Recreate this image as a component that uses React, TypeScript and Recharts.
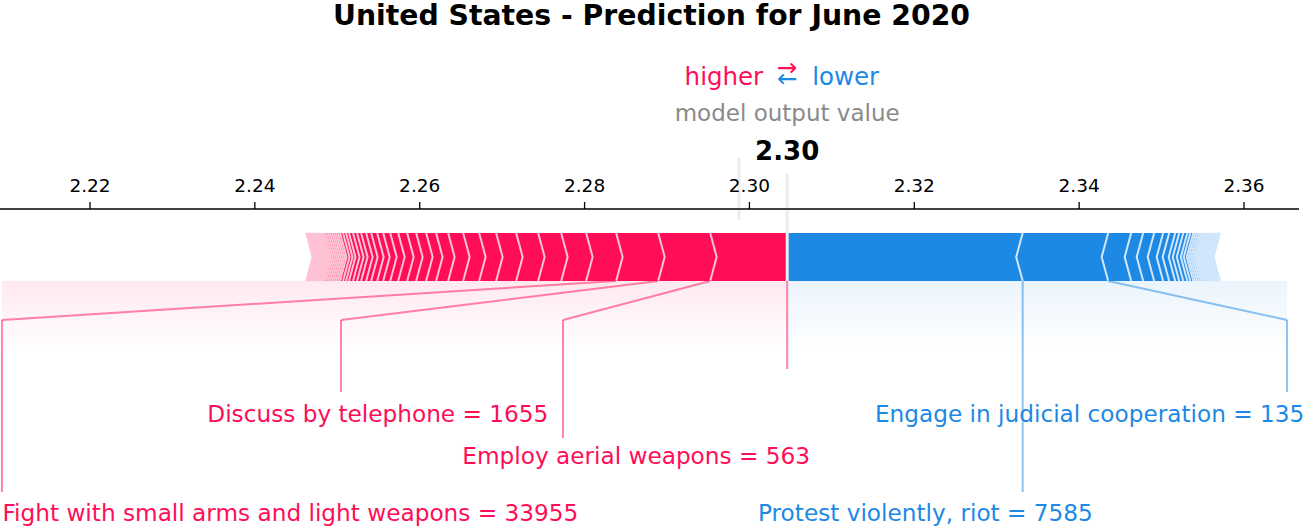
import React from "react";
import { ComposedChart, XAxis, YAxis, ReferenceArea, ReferenceLine, ReferenceDot } from "recharts";

// ---- data ----
const TITLE = "United States - Prediction for June 2020";
const BASE_VALUE = 2.29873;
const xTicks = [2.22, 2.24, 2.26, 2.28, 2.3, 2.32, 2.34, 2.36];

// contributions pushing the output higher, largest first
const higherEffects = [
  0.00934, 0.00631, 0.0051, 0.00364, 0.00303, 0.00279, 0.00267, 0.00243, 0.00206, 0.00194,
  0.00182, 0.00146, 0.00121, 0.00121, 0.00109, 0.00109, 0.00097, 0.00085, 0.00073, 0.00073,
  0.00061, 0.00061, 0.00049, 0.00049, 0.00049, 0.00036, 0.00036, 0.00036, 0.00024, 0.00024,
  0.00024, 0.00024, 0.00024, 0.00024, 0.00024, 0.00022, 0.00019, 0.00018, 0.00017, 0.00016,
  0.00015, 0.00014, 0.00013, 0.00012, 0.00011, 0.0001, 0.00009, 0.00008, 0.00008, 0.00007,
  0.00006, 0.00006, 0.00005, 0.00005, 0.00004, 0.00004, 0.00003, 0.00003, 0.00002, 0.00002,
  0.00001, 0.00001,
];

// contributions pushing the output lower, largest first
const lowerEffects = [
  0.02857, 0.01037, 0.00279, 0.00146, 0.00133, 0.00109, 0.00073, 0.00073, 0.00049, 0.00049,
  0.00049, 0.00036, 0.00036, 0.00024, 0.00024, 0.00024, 0.00022, 0.00019, 0.00018, 0.00017,
  0.00016, 0.00015, 0.00014, 0.00013, 0.00012, 0.00011, 0.0001, 0.00009, 0.00009, 0.00008,
  0.00008, 0.00007, 0.00006, 0.00006, 0.00005, 0.00005, 0.00004, 0.00004, 0.00003, 0.00003,
  0.00002, 0.00002, 0.00001, 0.00001,
];

const higherNames = ["Employ aerial weapons", "Discuss by telephone", "Fight with small arms and light weapons"];
const higherCounts = ["563", "1655", "33955"];
const lowerNames = ["Protest violently, riot", "Engage in judicial cooperation"];
const lowerCounts = ["7585", "135"];

// ---- layout ----
const W = 1303;
const H = 527;
const FONT = "DejaVu Sans";
const RED = "#FF0D57";
const RED_LIGHT = "#FFC3D5";
const BLUE = "#1E88E5";
const BLUE_LIGHT = "#D1E6FA";
const X_DOMAIN: [number, number] = [2.209082, 2.366671];
const Y_DOMAIN: [number, number] = [-5.125, 1.5]; // bar spans y 0..1
const INDENT = (X_DOMAIN[1] - X_DOMAIN[0]) / 200;
const ELBOW_Y = -0.8125;
const LABEL_SIZE = 23.2;

// label placement: where the leader line drops, where the text sits, which row
const tiers = [
  { lineEnd: -2.3125, baseline: -2.944 },
  { lineEnd: -3.27, baseline: -3.8125 },
  { lineEnd: -4.396, baseline: -5.0 },
];
const higherPlacement = [
  { dropX: 2.27738, textX: 2.30735, tier: 1 },
  { dropX: 2.25045, textX: 2.2756, tier: 0 },
  { dropX: 2.20932, textX: 2.27924, tier: 2 },
];
const lowerPlacement = [
  { dropX: null as number | null, textX: 2.30104, tier: 2 },
  { dropX: 2.36522, textX: 2.31523, tier: 0 },
];

const sum = (a: number[]) => a.reduce((s, v) => s + v, 0);
const outValue = BASE_VALUE + sum(higherEffects) - sum(lowerEffects);

type Seg = { left: number; right: number; index: number; side: "pos" | "neg" };

const higherSegs: Seg[] = [];
{
  let pre = outValue;
  higherEffects.forEach((e, i) => {
    higherSegs.push({ left: pre - e, right: pre, index: i, side: "pos" });
    pre -= e;
  });
}
const lowerSegs: Seg[] = [];
{
  let pre = outValue;
  lowerEffects.forEach((e, i) => {
    lowerSegs.push({ left: pre, right: pre + e, index: i, side: "neg" });
    pre += e;
  });
}

const pts = (p: number[][]) => p.map((q) => q.join(",")).join(" ");

function segmentShape(seg: Seg) {
  return (p: any) => {
    const { x, y, width, height } = p;
    const sign = seg.side === "pos" ? 1 : -1;
    const ind = (width / (seg.right - seg.left)) * INDENT * sign;
    const L = x;
    const R = x + width;
    const T = y;
    const B = y + height;
    const M = y + height / 2;
    let poly: number[][];
    if (seg.index === 0) {
      poly =
        seg.side === "pos"
          ? [[L, B], [R, B], [R, T], [L, T], [L + ind, M]]
          : [[R, B], [L, B], [L, T], [R, T], [R + ind, M]];
    } else {
      poly = [[L, T], [R, T], [R + ind * 0.9, M], [R, B], [L, B], [L + ind * 0.9, M]];
    }
    return <polygon points={pts(poly)} fill={seg.side === "pos" ? RED : BLUE} />;
  };
}

function separatorShape(side: "pos" | "neg") {
  return (p: any) => {
    const { x, y, width, height } = p;
    const M = y + height / 2;
    const poly =
      side === "pos"
        ? [[x, y], [x + width, M], [x, y + height]]
        : [[x + width, y], [x, M], [x + width, y + height]];
    return (
      <polyline
        points={pts(poly)}
        fill="none"
        stroke={side === "pos" ? RED_LIGHT : BLUE_LIGHT}
        strokeWidth={2}
      />
    );
  };
}

function shadeShape(id: string, color: string) {
  return (p: any) => (
    <g>
      <defs>
        <linearGradient id={id} x1="0" y1="0" x2="0" y2="1">
          <stop offset="0%" stopColor={color} stopOpacity={0.09} />
          <stop offset="100%" stopColor={color} stopOpacity={0} />
        </linearGradient>
      </defs>
      <rect x={p.x} y={p.y} width={p.width} height={p.height} fill={`url(#${id})`} />
    </g>
  );
}

function textShape(text: string, opts: { size: number; color: string; anchor: string; weight?: string }) {
  return (p: any) => (
    <text
      x={p.cx}
      y={p.cy}
      fontSize={opts.size}
      fill={opts.color}
      textAnchor={opts.anchor}
      fontWeight={opts.weight ?? "normal"}
      fontFamily={FONT}
    >
      {text}
    </text>
  );
}

function higherLowerShape(p: any) {
  return (
    <g fontFamily={FONT} fontSize={24.5}>
      <text x={p.cx - 24} y={p.cy} fill={RED} textAnchor="end">higher</text>
      <text x={p.cx + 25} y={p.cy} fill={BLUE} textAnchor="start">lower</text>
      <text x={p.cx} y={p.cy - 9} fill={RED} textAnchor="middle">→</text>
      <text x={p.cx} y={p.cy + 2} fill={BLUE} textAnchor="middle">←</text>
    </g>
  );
}

const redLine = "rgba(255,13,87,0.5)";
const blueLine = "rgba(30,136,229,0.5)";

export default function App() {
  const leftShade = Math.min(...higherPlacement.map((h) => h.dropX));
  const rightShade = Math.max(...lowerPlacement.map((l) => l.dropX ?? 0));

  return (
    <div style={{ position: "absolute", left: 0, top: 0, width: W, height: H, background: "#fff" }}>
      <ComposedChart width={W} height={H} margin={{ top: 0, right: 4, bottom: 0, left: 0 }}>
        <XAxis
          type="number"
          dataKey="x"
          orientation="top"
          domain={X_DOMAIN}
          ticks={xTicks}
          interval={0}
          allowDataOverflow
          height={209}
          tickSize={7}
          tickMargin={10}
          tickFormatter={(v: number) => v.toFixed(2)}
          tick={{ fontSize: 18.5, fill: "#000", fontFamily: FONT }}
          axisLine={{ stroke: "#000", strokeWidth: 1.3 }}
          tickLine={{ stroke: "#000", strokeWidth: 1.3 }}
        />
        <YAxis type="number" dataKey="y" domain={Y_DOMAIN} hide allowDataOverflow />

        <ReferenceArea x1={leftShade} x2={outValue} y1={-1.5} y2={0} shape={shadeShape("shadeRed", RED)} />
        <ReferenceArea x1={outValue} x2={rightShade} y1={-1.5} y2={0} shape={shadeShape("shadeBlue", BLUE)} />

        {higherSegs.map((s) => (
          <ReferenceArea key={`hp${s.index}`} x1={s.left} x2={s.right} y1={0} y2={1} shape={segmentShape(s)} />
        ))}
        {lowerSegs.map((s) => (
          <ReferenceArea key={`lp${s.index}`} x1={s.left} x2={s.right} y1={0} y2={1} shape={segmentShape(s)} />
        ))}
        {higherSegs.map((s) => (
          <ReferenceArea key={`hs${s.index}`} x1={s.left} x2={s.left + INDENT} y1={0} y2={1} shape={separatorShape("pos")} />
        ))}
        {lowerSegs.map((s) => (
          <ReferenceArea key={`ls${s.index}`} x1={s.right - INDENT} x2={s.right} y1={0} y2={1} shape={separatorShape("neg")} />
        ))}

        {/* base value and output value markers */}
        <ReferenceLine segment={[{ x: BASE_VALUE, y: 2.5625 }, { x: BASE_VALUE, y: 1.53 }]} stroke="#ececec" strokeWidth={3} ifOverflow="visible" />
        <ReferenceLine segment={[{ x: BASE_VALUE, y: 1.47 }, { x: BASE_VALUE, y: 1.271 }]} stroke="#ececec" strokeWidth={3} ifOverflow="visible" />
        <ReferenceLine segment={[{ x: outValue, y: 2.229 }, { x: outValue, y: 1.53 }]} stroke="#ececec" strokeWidth={3} ifOverflow="visible" />
        <ReferenceLine segment={[{ x: outValue, y: 1.47 }, { x: outValue, y: 0 }]} stroke="#ececec" strokeWidth={3} ifOverflow="visible" />

        {/* leader lines */}
        <ReferenceLine segment={[{ x: outValue, y: 0 }, { x: outValue, y: -1.833 }]} stroke={redLine} strokeWidth={2} ifOverflow="visible" />
        {higherPlacement.map((pl, i) => (
          <React.Fragment key={`hl${i}`}>
            <ReferenceLine segment={[{ x: higherSegs[i].left, y: 0 }, { x: pl.dropX, y: ELBOW_Y }]} stroke={redLine} strokeWidth={2} ifOverflow="visible" />
            <ReferenceLine segment={[{ x: pl.dropX, y: ELBOW_Y }, { x: pl.dropX, y: tiers[pl.tier].lineEnd }]} stroke={redLine} strokeWidth={2} ifOverflow="visible" />
          </React.Fragment>
        ))}
        {lowerPlacement.map((pl, i) => {
          const val = lowerSegs[i].right;
          if (pl.dropX === null) {
            return (
              <ReferenceLine key={`ll${i}`} segment={[{ x: val, y: 0 }, { x: val, y: tiers[pl.tier].lineEnd }]} stroke={blueLine} strokeWidth={2} ifOverflow="visible" />
            );
          }
          return (
            <React.Fragment key={`ll${i}`}>
              <ReferenceLine segment={[{ x: val, y: 0 }, { x: pl.dropX, y: ELBOW_Y }]} stroke={blueLine} strokeWidth={2} ifOverflow="visible" />
              <ReferenceLine segment={[{ x: pl.dropX, y: ELBOW_Y }, { x: pl.dropX, y: tiers[pl.tier].lineEnd }]} stroke={blueLine} strokeWidth={2} ifOverflow="visible" />
            </React.Fragment>
          );
        })}

        {/* feature labels */}
        {higherPlacement.map((pl, i) => (
          <ReferenceDot
            key={`ht${i}`}
            x={pl.textX}
            y={tiers[pl.tier].baseline}
            r={0}
            ifOverflow="visible"
            shape={textShape(`${higherNames[i]} = ${higherCounts[i]}`, { size: LABEL_SIZE, color: RED, anchor: "end" })}
          />
        ))}
        {lowerPlacement.map((pl, i) => (
          <ReferenceDot
            key={`lt${i}`}
            x={pl.textX}
            y={tiers[pl.tier].baseline}
            r={0}
            ifOverflow="visible"
            shape={textShape(`${lowerNames[i]} = ${lowerCounts[i]}`, { size: LABEL_SIZE, color: BLUE, anchor: "start" })}
          />
        ))}

        {/* header over the output value */}
        <ReferenceDot x={outValue} y={4.083} r={0} ifOverflow="visible" shape={higherLowerShape} />
        <ReferenceDot
          x={outValue}
          y={3.333}
          r={0}
          ifOverflow="visible"
          shape={textShape("model output value", { size: 23, color: "#8a8a8a", anchor: "middle" })}
        />
        <ReferenceDot
          x={outValue}
          y={2.521}
          r={0}
          ifOverflow="visible"
          shape={textShape(outValue.toFixed(2), { size: 26, color: "#000", anchor: "middle", weight: "bold" })}
        />
      </ComposedChart>
      <div
        style={{
          position: "absolute",
          left: 0,
          top: 1,
          width: W,
          textAlign: "center",
          fontFamily: FONT,
          fontWeight: "bold",
          fontSize: 28.3,
          lineHeight: "30px",
        }}
      >
        {TITLE}
      </div>
    </div>
  );
}
